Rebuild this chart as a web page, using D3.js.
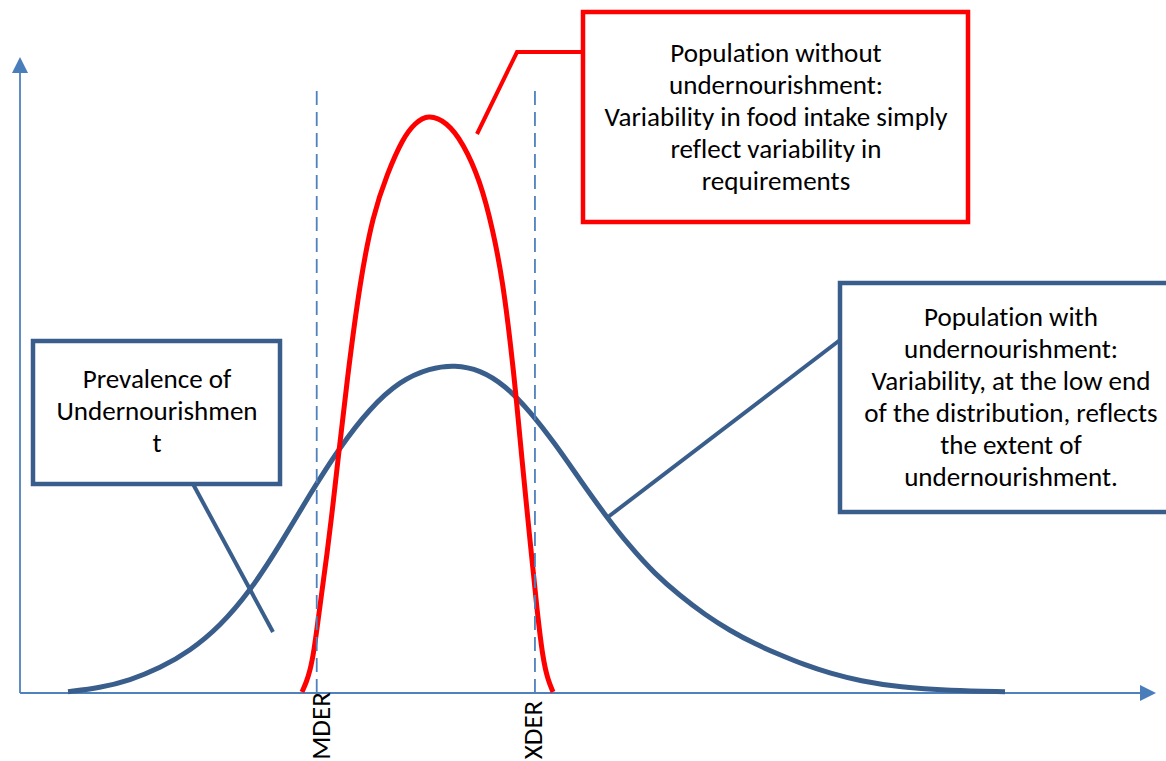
<!DOCTYPE html>
<html><head><meta charset="utf-8">
<script src="https://cdn.jsdelivr.net/npm/d3@7"></script>
<style>html,body{margin:0;padding:0;background:#fff;} svg{display:block;} text{font-variant-ligatures:none;font-feature-settings:"liga" 0,"clig" 0;}</style>
</head><body>
<svg id="chart" width="1166" height="761"></svg>
<script>
// ---- data (x: intake units 0..100, y: relative density 0..100) ----
const blueX = [4.23, 7.04, 9.68, 12.32, 14.96, 17.61, 20.25, 22.89, 25.53, 28.17, 30.81, 33.45, 36.09, 38.29, 40.49, 42.69, 44.89, 47.10, 49.30, 51.50, 53.70, 55.90, 58.10, 60.30, 62.50, 64.70, 66.90, 69.10, 71.30, 73.94, 77.46, 81.87, 86.71];
const blueY = [0.2, 0.8, 2.0, 3.9, 6.6, 10.5, 16.0, 23.3, 31.3, 38.7, 44.8, 49.1, 51.1, 51.6, 50.8, 48.4, 44.3, 39.2, 33.5, 28.0, 23.0, 18.7, 15.3, 12.3, 9.8, 7.7, 6.0, 4.4, 3.1, 1.9, 0.9, 0.4, 0.2];
const redX = [24.82, 25.18, 25.53, 25.88, 26.23, 26.58, 27.02, 27.55, 27.99, 28.79, 29.93, 31.07, 32.31, 33.71, 34.77, 35.92, 37.59, 39.00, 40.49, 41.64, 42.52, 43.22, 43.66, 44.19, 44.89, 45.51, 46.04, 46.48, 46.92];
const redY = [0.16, 1.57, 3.46, 6.60, 11.32, 16.04, 21.70, 29.56, 36.64, 49.21, 64.78, 75.16, 81.60, 87.26, 89.62, 91.0, 89.78, 86.48, 80.66, 72.80, 64.47, 54.25, 46.86, 36.64, 24.06, 13.05, 5.19, 2.04, 0.16];
const markerNames = ["MDER", "XDER"];
const markerX = [26.12, 45.33];
const markerTop = 95.3;
const axisMax = 100;

const redBoxLines = ["Population without", "undernourishment:", "Variability in food intake simply", "reflect variability in", "requirements"];
const leftBoxLines = ["Prevalence of", "Undernourishmen", "t"];
const rightBoxLines = ["Population with", "undernourishment:", "Variability, at the low end", "of the distribution, reflects", "the extent of", "undernourishment."];

// ---- drawing ----
const svg = d3.select("#chart");
const x = d3.scaleLinear().domain([0, 100]).range([20, 1156]);
const y = d3.scaleLinear().domain([0, 100]).range([693, 57]);

const AXIS = "#4f81bd", DARK = "#3a5e8c", RED = "#ff0000";
const FONT = "Carlito, Calibri, Lato, 'Open Sans', sans-serif";

// fit font size to reference line width
const probe = svg.append("text").attr("font-family", FONT).attr("font-size", 100).text(redBoxLines[2]);
const fs = 100 * 343 / probe.node().getComputedTextLength();
probe.remove();

// axes
const gAx = svg.append("g");
gAx.append("line").attr("x1", x(0)).attr("y1", y(0)).attr("x2", x(0)).attr("y2", y(axisMax) + 14)
  .attr("stroke", AXIS).attr("stroke-width", 1.8);
gAx.append("line").attr("x1", x(0)).attr("y1", y(0)).attr("x2", x(axisMax) - 14).attr("y2", y(0))
  .attr("stroke", AXIS).attr("stroke-width", 1.8);
gAx.append("path").attr("d", `M${x(0)},${y(axisMax)} L${x(0)+8},${y(axisMax)+16} L${x(0)-8},${y(axisMax)+16} Z`).attr("fill", "#4a7ebb");
gAx.append("path").attr("d", `M${x(axisMax)},${y(0)} L${x(axisMax)-16},${y(0)-8} L${x(axisMax)-16},${y(0)+8} Z`).attr("fill", "#4a7ebb");

// curves
const line = d3.line().x(d => x(d[0])).y(d => y(d[1])).curve(d3.curveBasis);
svg.append("path").attr("d", line(blueX.map((v, i) => [v, blueY[i]])))
  .attr("fill", "none").attr("stroke", DARK).attr("stroke-width", 5);
svg.append("path").attr("d", line(redX.map((v, i) => [v, redY[i]])))
  .attr("fill", "none").attr("stroke", RED).attr("stroke-width", 5);

// dashed reference lines + labels
const labelShift = [4, -2];
const labelCenter = [726, 730];
markerNames.forEach((name, i) => {
  svg.append("line").attr("x1", x(markerX[i])).attr("x2", x(markerX[i]))
    .attr("y1", y(0)).attr("y2", y(markerTop))
    .attr("stroke", AXIS).attr("stroke-width", 1.8).attr("stroke-dasharray", "14,7");
  svg.append("text")
    .attr("transform", `translate(${x(markerX[i]) + labelShift[i]},${labelCenter[i]}) rotate(-90)`)
    .attr("text-anchor", "middle").attr("dy", "0.33em")
    .attr("font-family", FONT).attr("font-size", fs).attr("fill", "#000")
    .text(name);
});

// connectors
svg.append("path").attr("d", "M477,134 L517,52 L583,52").attr("fill", "none").attr("stroke", RED).attr("stroke-width", 4);
svg.append("line").attr("x1", 193).attr("y1", 484).attr("x2", 273).attr("y2", 632).attr("stroke", DARK).attr("stroke-width", 4);
svg.append("line").attr("x1", 608).attr("y1", 517).attr("x2", 840).attr("y2", 340).attr("stroke", DARK).attr("stroke-width", 4);

// boxes
function box(x0, y0, x1, y1, color, lines, cx, base0, step) {
  svg.append("rect").attr("x", x0).attr("y", y0).attr("width", x1 - x0).attr("height", y1 - y0)
    .attr("fill", "#fff").attr("stroke", color).attr("stroke-width", 4.5);
  const t = svg.append("text").attr("font-family", FONT).attr("font-size", fs).attr("fill", "#000").attr("text-anchor", "middle");
  lines.forEach((s, i) => t.append("tspan").attr("x", cx).attr("y", base0 + i * step).text(s));
}
box(583, 12, 968, 222, RED, redBoxLines, 776, 62, 32);
box(33, 341, 280, 484, DARK, leftBoxLines, 157, 388, 32);
box(840, 283, 1182, 512, DARK, rightBoxLines, 1011, 326, 32);
</script>
</body></html>
